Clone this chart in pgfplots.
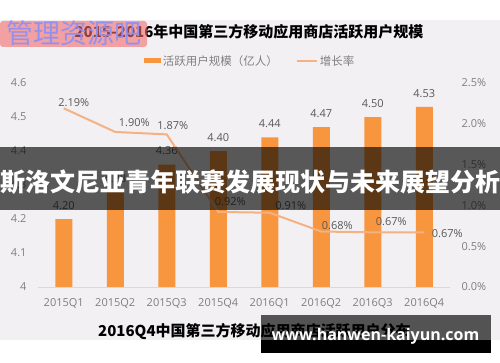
\documentclass[border=0pt]{standalone}
\usepackage{fontspec}
\usepackage{pgfplots}
\pgfplotsset{compat=1.18}
\setmainfont{Open Sans}
\newfontfamily\cjk{Noto Sans CJK SC}
\definecolor{bggray}{HTML}{F2F0F3}
\definecolor{barorange}{HTML}{F7963E}
\definecolor{linesalmon}{HTML}{F4B183}
\definecolor{tickgray}{HTML}{7F7F7F}
\definecolor{labgray}{HTML}{595959}
\definecolor{wmred}{HTML}{F26B6B}
\definecolor{wmtext}{HTML}{9090F0}
\pgfplotsset{/pgf/number format/assume math mode=true}
\begin{document}
\begin{tikzpicture}[x=1pt,y=1pt]
\path[use as bounding box] (0pt,0pt) rectangle (500pt,362pt);
\fill[white] (0pt,0pt) rectangle (500pt,362pt);
\fill[bggray] (0pt,22pt) rectangle (500pt,342pt);
\node[font=\cjk\bfseries\fontsize{15}{17}\selectfont, anchor=center] at (249pt,330pt) {2015-2016年中国第三方移动应用商店活跃用户规模};

\begin{axis}[
  at={(38pt,75pt)}, anchor=south west, scale only axis, width=412pt, height=204pt,
  xmin=-0.5, xmax=7.5, ymin=4, ymax=4.6,
  xtick={0,1,2,3,4,5,6,7},
  xticklabels={2015Q1,2015Q2,2015Q3,2015Q4,2016Q1,2016Q2,2016Q3,2016Q4},
  ytick={4,4.1,4.2,4.3,4.4,4.5,4.6},
  yticklabels={4,4.1,4.2,4.3,4.4,4.5,4.6},
  major tick length=0pt,
  axis line style={draw=none},
  tick label style={font=\fontsize{11}{13}\selectfont, text=tickgray},
  xticklabel style={yshift=-8pt},
  yticklabel style={xshift=-8pt},
  clip mode=individual,
  ybar, bar width=17pt,
  legend style={at={(0.5146,1.108)}, anchor=center, draw=none, fill=none,
    legend columns=2, font=\cjk\fontsize{11.5}{13}\selectfont, text=tickgray,
    /tikz/every even column/.append style={column sep=16pt}},
  after end axis/.code={\draw[black!15, line width=1pt] (rel axis cs:0,0) -- (rel axis cs:1,0);},
]
\addplot[fill=barorange, draw=none,
  nodes near coords={\pgfmathprintnumber[fixed,fixed zerofill,precision=2]{\pgfplotspointmeta}},
  nodes near coords style={font=\fontsize{11}{13}\selectfont, text=labgray, yshift=6pt},
  legend image code/.code={\fill[barorange] (0pt,-2.5pt) rectangle (17pt,2.5pt);}
] coordinates {(0,4.20) (1,4.28) (2,4.36) (3,4.40) (4,4.44) (5,4.47) (6,4.50) (7,4.53)};
\addlegendentry{活跃用户规模（亿人）}
\addlegendimage{legend image code/.code={\draw[linesalmon, line width=2pt] (0pt,0pt) -- (20pt,0pt);}}
\addlegendentry{增长率}
\end{axis}

\begin{axis}[
  at={(38pt,75pt)}, anchor=south west, scale only axis, width=412pt, height=204pt,
  xmin=-0.5, xmax=7.5, ymin=0, ymax=2.5,
  hide x axis, axis line style={draw=none}, major tick length=0pt,
  ytick={0,0.5,1,1.5,2,2.5}, yticklabel pos=right,
  yticklabel={\pgfmathprintnumber[fixed,fixed zerofill,precision=1]{\tick}\%},
  tick label style={font=\fontsize{11}{13}\selectfont, text=tickgray},
  yticklabel style={xshift=8pt},
  clip=false,
]
\addplot[linesalmon, line width=2pt, mark=none, point meta=y,
  nodes near coords={\pgfmathprintnumber[fixed,fixed zerofill,precision=2]{\pgfplotspointmeta}\%},
  visualization depends on={value \thisrow{dx}\as\dx},
  visualization depends on={value \thisrow{dy}\as\dy},
  every node near coord/.append style={anchor=center, xshift=\dx pt, yshift=\dy pt,
    font=\fontsize{11}{13}\selectfont, text=labgray}
] table {
x y dx dy
0 2.19 10 6
1 1.90 19 9
2 1.87 6 9
3 0.92 12 10
4 0.91 21 7
5 0.68 16 5.5
6 0.67 18.5 11
7 0.67 23 -1
};
\end{axis}

% overlays
\fill[black, opacity=0.63] (0pt,152pt) rectangle (500pt,215pt);
\node[font=\cjk\bfseries\fontsize{25}{27}\selectfont, text=white] at (250pt,180pt) {斯洛文尼亚青年联赛发展现状与未来展望分析};

\fill[wmred, opacity=0.6, rounded corners=3pt] (0pt,315pt) rectangle (147pt,341pt);
\node[font=\cjk\fontsize{27}{29}\selectfont, text=wmtext, opacity=0.95] at (74pt,329pt) {管理资源吧};

\node[font=\cjk\bfseries\fontsize{15}{17}\selectfont, anchor=west, inner sep=0pt] at (98pt,30pt) {2016Q4中国第三方移动应用商店活跃用户分布};
\fill[black, opacity=0.65] (261pt,22pt) rectangle (491pt,47pt);
\fill[black] (261pt,9pt) rectangle (491pt,22pt);
\node[font=\bfseries\fontsize{16}{18}\selectfont, text=white] at (375.5pt,26pt) {www.hanwen-kaiyun.com};
\end{tikzpicture}
\end{document}
